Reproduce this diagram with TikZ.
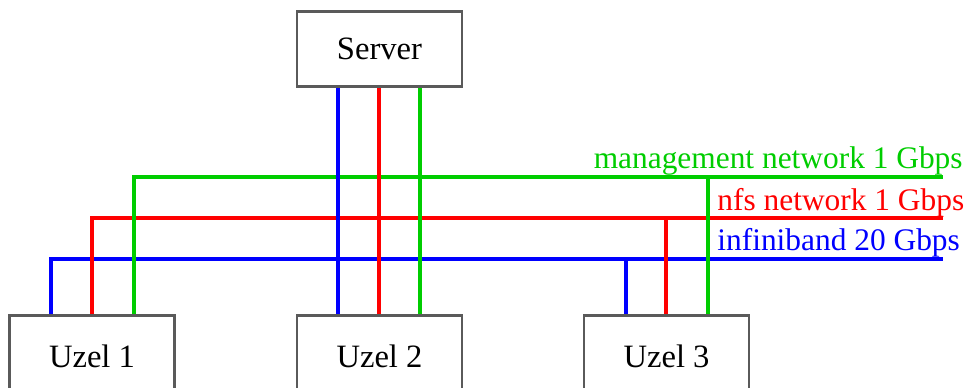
\documentclass[tikz,border=0pt]{standalone}
\usepackage{fontspec}
\setmainfont{Liberation Serif}
\definecolor{mgreen}{RGB}{0,205,0}
\definecolor{nred}{RGB}{255,0,0}
\definecolor{iblue}{RGB}{0,0,255}
\definecolor{boxgray}{RGB}{90,90,90}
\begin{document}
\begin{tikzpicture}[x=0.5pt,y=-0.5pt,
  box/.style={draw=boxgray,line width=0.9pt,fill=white,minimum width=82pt,inner sep=0pt,font=\fontsize{16.3}{19}\selectfont},
  mgmt/.style={draw=mgreen,line width=1.6pt},
  nfs/.style={draw=nred,line width=1.6pt},
  ib/.style={draw=iblue,line width=1.6pt},
  lbl/.style={inner sep=0pt,font=\fontsize{15.7}{18}\selectfont}]
\clip (0,0) rectangle (967,387);
\useasboundingbox (0,0) rectangle (967,387);
% coordinates of the buses
\coordinate (mL) at (134,177); \coordinate (mR) at (943,177);
\coordinate (nL) at (92,218);  \coordinate (nR) at (943,218);
\coordinate (iL) at (51,259);  \coordinate (iR) at (943,259);
% nodes
\node[box,minimum height=37pt] (server) at (379.5,49) {Server};
\node[box,minimum height=40pt] (u1) at (92,356) {Uzel 1};
\node[box,minimum height=40pt] (u2) at (379.5,356) {Uzel 2};
\node[box,minimum height=40pt] (u3) at (666.5,356) {Uzel 3};
% buses
\draw[ib]   (u1.north -| iL) -- (iL) -- (iR);
\draw[nfs]  (u1.north -| nL) -- (nL) -- (nR);
\draw[mgmt] (u1.north -| mL) -- (mL) -- (mR);
% server to uzel 2
\coordinate (sB) at (338,0); \coordinate (sR) at (379,0); \coordinate (sG) at (420,0);
\draw[ib]   (server.south -| sB) -- (u2.north -| sB);
\draw[nfs]  (server.south -| sR) -- (u2.north -| sR);
\draw[mgmt] (server.south -| sG) -- (u2.north -| sG);
% uzel 3
\coordinate (tB) at (626,0); \coordinate (tR) at (666,0); \coordinate (tG) at (708,0);
\draw[ib]   (u3.north -| tB) -- (tB |- iL);
\draw[nfs]  (u3.north -| tR) -- (tR |- nL);
\draw[mgmt] (u3.north -| tG) -- (tG |- mL);
% redraw box borders on top
\draw[boxgray,line width=0.9pt] (server.south west) rectangle (server.north east);
\draw[boxgray,line width=0.9pt] (u1.south west) rectangle (u1.north east);
\draw[boxgray,line width=0.9pt] (u2.south west) rectangle (u2.north east);
\draw[boxgray,line width=0.9pt] (u3.south west) rectangle (u3.north east);
% labels
\node[lbl,text=mgreen,anchor=base east] (lm) at (963,168) {management network 1 Gbps};
\node[lbl,text=nred,anchor=base west] (ln) at (717,210) {nfs network 1 Gbps};
\node[lbl,text=iblue,anchor=base west] (li) at (717,250) {infiniband 20 Gbps};
\end{tikzpicture}
\end{document}
